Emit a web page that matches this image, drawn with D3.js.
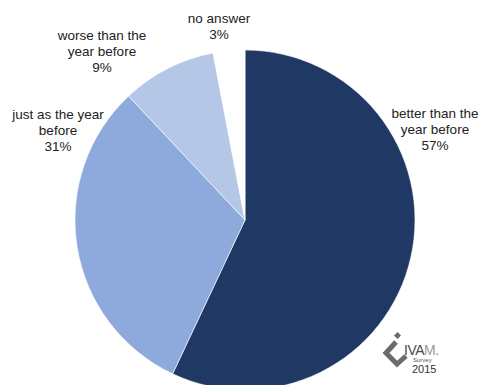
<!DOCTYPE html>
<html><head><meta charset="utf-8">
<script src="https://cdn.jsdelivr.net/npm/d3@7"></script>
<style>html,body{margin:0;padding:0;background:#fff;overflow:hidden}</style>
</head><body>
<svg id="c" width="481" height="385"></svg>
<script>
const categories = ["better than the year before", "just as the year before", "worse than the year before", "no answer"];
const values = [57, 31, 9, 3];
const colors = ["#203864", "#8EA9DB", "#B4C7E7", "#FFFFFF"];
const labelLines = [
  ["better than the", "year before", "57%"],
  ["just as the year", "before", "31%"],
  ["worse than the", "year before", "9%"],
  ["no answer", "3%"]
];
const labelPos = [[435, 118], [58, 119], [102, 40], [219, 23]];

const svg = d3.select("#c");
const cx = 245, cy = 220, r = 170;
const pie = d3.pie().sort(null).value(d => d)(values);
const arc = d3.arc().innerRadius(0).outerRadius(r);
const g = svg.append("g").attr("transform", `translate(${cx},${cy})`);
g.selectAll("path").data(pie).enter().append("path")
  .attr("d", arc).attr("fill", (d, i) => colors[i])
  .attr("stroke", "#fff").attr("stroke-width", 0.6);

labelLines.forEach((lines, i) => {
  const t = svg.append("text").attr("text-anchor", "middle")
    .attr("font-family", "Liberation Sans, Arial, sans-serif")
    .attr("font-size", 13.5).attr("fill", "#222");
  lines.forEach((l, j) => t.append("tspan").attr("x", labelPos[i][0]).attr("y", labelPos[i][1] + j * 16).text(l));
});

// logo
const logo = svg.append("g");
logo.append("path").attr("d", "M396,342 L386,353 L397,364 L406,356")
  .attr("fill", "none").attr("stroke", "#6b6b6b").attr("stroke-width", 5).attr("stroke-linejoin", "miter");
logo.append("rect").attr("x", 395).attr("y", 333).attr("width", 5).attr("height", 5)
  .attr("transform", "rotate(45,397.5,335.5)").attr("fill", "#6b6b6b");
const lt = logo.append("text").attr("x", 404).attr("y", 355)
  .attr("font-family", "Liberation Sans, Arial, sans-serif").attr("font-size", 14)
  .attr("letter-spacing", -0.5);
lt.append("tspan").attr("fill", "#4a4a4a").text("IVA");
lt.append("tspan").attr("fill", "#9a9a9a").text("M.");
logo.append("text").attr("x", 413).attr("y", 362).attr("font-family", "Liberation Sans, Arial, sans-serif")
  .attr("font-size", 6).attr("fill", "#555").text("Survey");
logo.append("text").attr("x", 412).attr("y", 373).attr("font-family", "Liberation Sans, Arial, sans-serif")
  .attr("font-size", 11).attr("fill", "#333").text("2015");
</script>
</body></html>
